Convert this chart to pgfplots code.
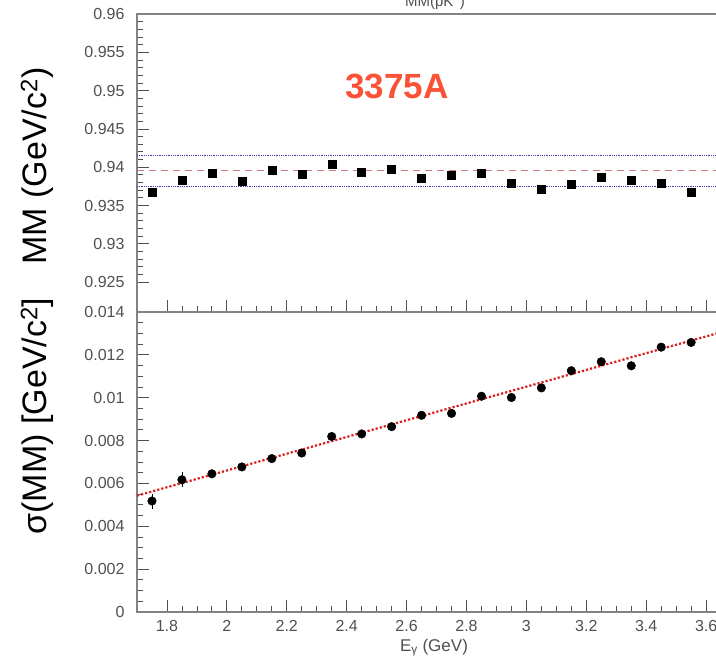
\documentclass[border=0pt]{standalone}
\usepackage{fontspec}
\setmainfont{Liberation Sans}
\usepackage{pgfplots}
\pgfplotsset{compat=1.18}

\definecolor{axgray}{RGB}{130,130,130}
\definecolor{lblgray}{RGB}{80,80,80}
\definecolor{tagred}{RGB}{250,82,55}
\definecolor{fitred}{RGB}{220,30,30}
\definecolor{meanred}{RGB}{205,125,125}
\definecolor{bandblue}{RGB}{60,60,170}

\pgfplotsset{
  mmstyle/.style={
    scale only axis, width=582pt,
    xmin=1.7, xmax=3.643,
    xtick={1.8,2.0,...,3.6}, minor x tick num=3,
    xtick pos=bottom, ytick pos=left,
    scaled y ticks=false,
    axis line style={axgray, line width=1.6pt},
    every tick/.style={lblgray, line width=0.8pt},
    major tick length=12pt, minor tick length=6pt,
    tick label style={font=\fontsize{16}{18}\selectfont, lblgray},
    yticklabel style={xshift=-9pt},
    xticklabel style={yshift=-5pt},
    /pgf/number format/.cd, fixed, precision=3, assume math mode=true,
  },
}

\begin{document}
\begin{tikzpicture}[x=1pt,y=1pt]
% upper panel: missing mass
\begin{axis}[mmstyle,
  at={(137pt,-312pt)}, anchor=south west, height=298pt,
  ymin=0.9211, ymax=0.96,
  ytick={0.925,0.93,0.935,0.94,0.945,0.95,0.955,0.96}, minor y tick num=4,
  xticklabels={},
]
\addplot[bandblue, densely dotted, line width=0.8pt] coordinates {(1.7,0.9416)(3.643,0.9416)};
\addplot[meanred, dashed, line width=1.5pt, dash pattern=on 7pt off 5pt] coordinates {(1.7,0.93959)(3.643,0.93959)};
\addplot[bandblue, densely dotted, line width=0.8pt] coordinates {(1.7,0.93755)(3.643,0.93755)};
\addplot[only marks, mark=square*, mark size=4pt, black] coordinates {
  (1.75,0.93677)(1.85,0.93828)(1.95,0.93916)(2.05,0.93811)(2.15,0.93955)
  (2.25,0.93907)(2.35,0.94033)(2.45,0.93933)(2.55,0.93977)(2.65,0.93855)
  (2.75,0.93899)(2.85,0.93925)(2.95,0.93789)(3.05,0.93707)(3.15,0.93776)
  (3.25,0.93864)(3.35,0.93834)(3.45,0.93789)(3.55,0.93677)};
\end{axis}
% lower panel: width of the missing mass peak
\begin{axis}[mmstyle,
  at={(137pt,-612pt)}, anchor=south west, height=300pt,
  ymin=0, ymax=0.014,
  ytick={0,0.002,0.004,0.006,0.008,0.01,0.012,0.014}, minor y tick num=3,
]
\addplot[fitred, dotted, line width=2.2pt] coordinates {(1.7,0.00543)(3.643,0.01303)};
\addplot[only marks, mark=*, mark size=4.3pt, black,
  error bars/.cd, y dir=both, y explicit, error bar style={black, line width=0.8pt}, error mark=none]
  coordinates {
  (1.75,0.00518) +- (0,0.00035)
  (1.85,0.00617) +- (0,0.00035)
  (1.95,0.00645) +- (0,0.0002)
  (2.05,0.00677) +- (0,0.00012)
  (2.15,0.00716) +- (0,0.00012)
  (2.25,0.00742) +- (0,0.0001)
  (2.35,0.00819) +- (0,0.0001)
  (2.45,0.00831) +- (0,0.0001)
  (2.55,0.00865) +- (0,0.0001)
  (2.65,0.00918) +- (0,0.0001)
  (2.75,0.00927) +- (0,0.0001)
  (2.85,0.01007) +- (0,0.0001)
  (2.95,0.01001) +- (0,0.0001)
  (3.05,0.01046) +- (0,0.0001)
  (3.15,0.01126) +- (0,0.0001)
  (3.25,0.01168) +- (0,0.0001)
  (3.35,0.01149) +- (0,0.0001)
  (3.45,0.01236) +- (0,0.0001)
  (3.55,0.01258) +- (0,0.0001)};
\end{axis}
% labels
\node[rotate=90, font=\fontsize{34}{40}\selectfont] at (37,-166) {MM (GeV/c\textsuperscript{2})};
\node[rotate=90, font=\fontsize{34}{40}\selectfont] at (37,-416) {σ(MM) [GeV/c\textsuperscript{2}]};
\node[font=\bfseries\fontsize{35}{40}\selectfont, text=tagred] at (397,-86) {3375A};
\node[font=\fontsize{17}{19}\selectfont, text=lblgray, anchor=base] at (434,-651) {E\textsubscript{γ} (GeV)};
\node[font=\fontsize{15}{17}\selectfont, text=lblgray, anchor=base] at (435,-6) {MM(pK\textsuperscript{−})};
\pgfresetboundingbox
\path (0,0) rectangle (716,-659);
\end{tikzpicture}
\end{document}
